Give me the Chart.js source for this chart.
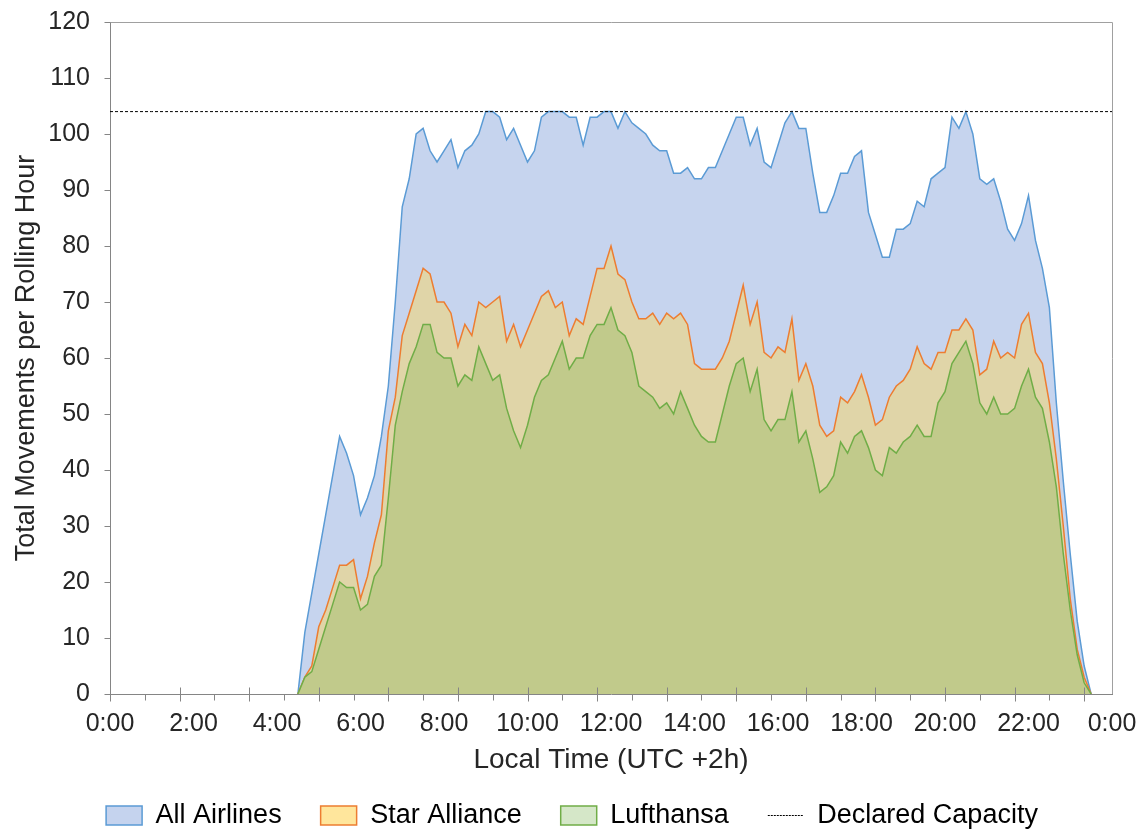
<!DOCTYPE html>
<html>
<head>
<meta charset="utf-8">
<script src="https://cdn.jsdelivr.net/npm/chart.js@4.4.1/dist/chart.umd.min.js"></script>
<style>
html, body { margin: 0; padding: 0; background: #fff; }
</style>
</head>
<body>
<canvas id="myChart" width="1141" height="833"></canvas>
<script>
// 10-minute slots from 0:00 to 24:00 (145 categories)
const tickLabels = ['0:00','2:00','4:00','6:00','8:00','10:00','12:00','14:00','16:00','18:00','20:00','22:00','0:00'];
const yTicks = [0,10,20,30,40,50,60,70,80,90,100,110,120];

const allAirlines = [
  null,null,null,null,null,null,null,null,null,null,null,null,
  null,null,null,null,null,null,null,null,null,null,null,null,
  null,null,null,0,11,18,25,32,39,46,43,39,
  32,35,39,46,55,70,87,92,100,101,97,95,
  97,99,94,97,98,100,104,104,103,99,101,98,
  95,97,103,104,104,104,103,103,98,103,103,104,
  104,101,104,102,101,100,98,97,97,93,93,94,
  92,92,94,94,97,100,103,103,98,101,95,94,
  98,102,104,101,101,93,86,86,89,93,93,96,
  97,86,82,78,78,83,83,84,88,87,92,93,
  94,103,101,104,100,92,91,92,88,83,81,84,
  89,81,76,69,52,38,25,13,5,0,null,null,
  null
];
const starAlliance = [
  null,null,null,null,null,null,null,null,null,null,null,null,
  null,null,null,null,null,null,null,null,null,null,null,null,
  null,null,null,0,3,5,12,15,19,23,23,24,
  17,21,27,32,47,53,64,68,72,76,75,70,
  70,68,62,66,64,70,69,70,71,63,66,62,
  65,68,71,72,69,70,64,67,66,71,76,76,
  80,75,74,70,67,67,68,66,68,67,68,66,
  59,58,58,58,60,63,68,73,66,70,61,60,
  62,61,67,56,59,55,48,46,47,53,52,54,
  57,53,48,49,53,55,56,58,62,59,58,61,
  61,65,65,67,65,57,58,63,60,61,60,66,
  68,61,59,52,42,30,17,8,3,0,null,null,
  null
];
const lufthansa = [
  null,null,null,null,null,null,null,null,null,null,null,null,
  null,null,null,null,null,null,null,null,null,null,null,null,
  null,null,null,0,3,4,8,12,16,20,19,19,
  15,16,21,23,35,48,54,59,62,66,66,61,
  60,60,55,57,56,62,59,56,57,51,47,44,
  48,53,56,57,60,63,58,60,60,64,66,66,
  69,65,64,61,55,54,53,51,52,50,54,51,
  48,46,45,45,50,55,59,60,54,58,49,47,
  49,49,54,45,47,42,36,37,39,45,43,46,
  47,44,40,39,44,43,45,46,48,46,46,52,
  54,59,61,63,59,52,50,53,50,50,51,55,
  58,53,51,45,37,25,15,7,2,0,null,null,
  null
];
const declaredCapacity = 104;

const categories = [];
for (let i = 0; i < allAirlines.length; i++) {
  const h = Math.floor(i / 6) % 24;
  const m = (i % 6) * 10;
  categories.push(h + ':' + (m < 10 ? '0' + m : m));
}

Chart.defaults.font.family = '"Liberation Sans", Arial, sans-serif';
Chart.defaults.color = '#262626';

// plot frame (top/right) plus the tick marks: x major every 10 slots (crossing), minor every 5 (outside)
const frameAndTicks = {
  id: 'frameAndTicks',
  afterDraw(chart) {
    const ctx = chart.ctx;
    const a = chart.chartArea;
    const x = chart.scales.x;
    const y = chart.scales.y;
    ctx.save();
    ctx.lineWidth = 1;
    ctx.strokeStyle = '#a0a0a0';
    ctx.beginPath();
    ctx.moveTo(a.left, Math.round(a.top) + 0.5);
    ctx.lineTo(Math.round(a.right) + 0.5, Math.round(a.top) + 0.5);
    ctx.lineTo(Math.round(a.right) + 0.5, a.bottom);
    ctx.stroke();
    ctx.strokeStyle = '#858585';
    const yb = Math.round(a.bottom) + 0.5;
    const xl = Math.round(a.left) + 0.5;
    ctx.beginPath();
    for (let i = 0; i < categories.length - 1; i += 5) {
      const px = Math.round(x.getPixelForValue(i)) + 0.5;
      if (i % 10 === 0) {
        ctx.moveTo(px, yb - 7);
        ctx.lineTo(px, yb + 7);
      } else {
        ctx.moveTo(px, yb);
        ctx.lineTo(px, yb + 6);
      }
    }
    yTicks.forEach(v => {
      const py = Math.round(y.getPixelForValue(v)) + 0.5;
      ctx.moveTo(xl - 6, py);
      ctx.lineTo(xl, py);
    });
    ctx.stroke();
    ctx.restore();
  }
};

const legendItems = [
  {text: 'All Airlines', fillStyle: '#c5d3ee', strokeStyle: '#5b9bd5', pointStyle: 'rect', lineWidth: 1.5},
  {text: 'Star Alliance', fillStyle: '#ffe69c', strokeStyle: '#ed7d31', pointStyle: 'rect', lineWidth: 1.5},
  {text: 'Lufthansa', fillStyle: '#d5e7c8', strokeStyle: '#70ad47', pointStyle: 'rect', lineWidth: 1.5},
  {text: 'Declared Capacity', fillStyle: 'rgba(0,0,0,0)', strokeStyle: '#000000', pointStyle: 'line', lineWidth: 1, lineDash: [2, 1]}
];

const ctx = document.getElementById('myChart').getContext('2d');
window.myChart = new Chart(ctx, {
  type: 'line',
  data: {
    labels: categories,
    datasets: [
      {
        label: 'Declared Capacity',
        data: categories.map(() => declaredCapacity),
        borderColor: '#000000',
        borderWidth: 1,
        borderDash: [3, 2],
        pointRadius: 0,
        fill: false,
        order: 0
      },
      {
        label: 'Lufthansa',
        data: lufthansa,
        borderColor: '#70ad47',
        backgroundColor: '#c1ca8b',
        borderWidth: 1.5,
        pointRadius: 0,
        fill: 'origin',
        order: 1
      },
      {
        label: 'Star Alliance',
        data: starAlliance,
        borderColor: '#ed7d31',
        backgroundColor: '#e0d5a8',
        borderWidth: 1.5,
        pointRadius: 0,
        fill: 'origin',
        order: 2
      },
      {
        label: 'All Airlines',
        data: allAirlines,
        borderColor: '#5b9bd5',
        backgroundColor: '#c6d4ee',
        borderWidth: 1.5,
        pointRadius: 0,
        fill: 'origin',
        order: 3
      }
    ]
  },
  options: {
    responsive: false,
    animation: false,
    devicePixelRatio: 1,
    layout: { padding: { left: 32, right: 29, top: 22, bottom: -6 } },
    plugins: {
      tooltip: { enabled: false },
      legend: {
        position: 'bottom',
        labels: {
          usePointStyle: true,
          pointStyleWidth: 36,
          boxHeight: 19,
          padding: 39,
          color: '#262626',
          font: { size: 27 },
          generateLabels: () => legendItems.map((it, i) => Object.assign({hidden: false, datasetIndex: i}, it))
        },
        onClick: () => {}
      }
    },
    scales: {
      x: {
        type: 'category',
        z: 1,
        grid: { display: true, drawOnChartArea: false, tickLength: 11, tickColor: 'rgba(0,0,0,0)' },
        border: { display: true, color: '#858585', width: 1 },
        ticks: {
          autoSkip: false,
          maxRotation: 0,
          minRotation: 0,
          padding: 4,
          font: { size: 25 },
          callback: (v, i) => (i % 12 === 0 ? tickLabels[i / 12] : '')
        },
        title: {
          display: true,
          text: 'Local Time (UTC +2h)',
          font: { size: 28 },
          padding: { top: 0, bottom: -14 }
        },
        afterFit: (scale) => { scale.height = 69; }
      },
      y: {
        min: 0,
        max: 120,
        z: 1,
        grid: { display: true, drawOnChartArea: false, tickLength: 11, tickColor: 'rgba(0,0,0,0)' },
        border: { display: true, color: '#858585', width: 1 },
        ticks: { stepSize: 10, padding: 9, font: { size: 25, lineHeight: 1 } },
        title: {
          display: true,
          text: 'Total Movements per Rolling Hour',
          font: { size: 27 },
          padding: { top: -22, bottom: 0 }
        },
        afterFit: (scale) => { scale.width = 78; }
      }
    }
  },
  plugins: [frameAndTicks]
});
</script>
</body>
</html>
